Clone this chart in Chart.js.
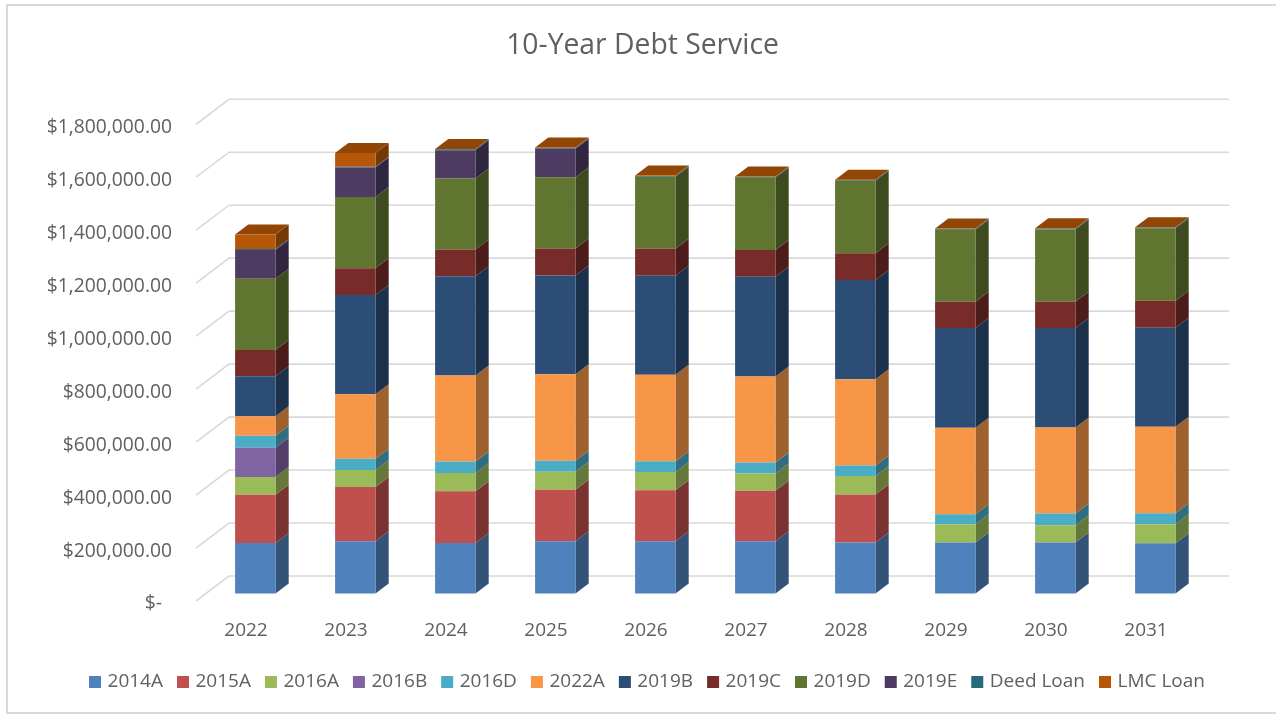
<!DOCTYPE html>
<html>
<head>
<meta charset="utf-8">
<title>10-Year Debt Service</title>
<script src="https://cdn.jsdelivr.net/npm/chart.js@4/dist/chart.umd.min.js"></script>
<style>
  html, body { margin: 0; padding: 0; background: #ffffff; overflow: hidden; }
  canvas { display: block; }
</style>
</head>
<body>
<canvas id="debtServiceChart" width="1276" height="714"></canvas>
<script>
const years = ['2022', '2023', '2024', '2025', '2026', '2027', '2028', '2029', '2030', '2031'];
const tickValues = [0, 200000, 400000, 600000, 800000, 1000000, 1200000, 1400000, 1600000, 1800000];

const bond2014A = [190700, 197000, 191000, 197500, 197500, 197500, 192600, 192600, 192600, 190000];
const bond2015A = [182400, 205000, 195000, 194000, 192600, 190000, 181000, 0, 0, 0];
const bond2016A = [66800, 64000, 69000, 68000, 69000, 65500, 70500, 69000, 65500, 71800];
const bond2016B = [110600, 0, 0, 0, 0, 0, 0, 0, 0, 0];
const bond2016D = [45300, 43000, 43000, 41500, 40400, 41500, 39000, 38000, 44000, 41500];
const bond2022A = [73300, 243000, 325000, 327000, 326000, 325000, 326000, 326000, 325000, 326000];
const bond2019B = [151000, 375000, 375000, 373000, 374000, 376500, 375000, 376500, 375000, 374000];
const bond2019C = [99300, 101000, 101000, 102000, 102000, 101000, 101000, 99500, 99500, 102000];
const bond2019D = [269300, 269000, 268000, 269000, 272000, 273000, 273000, 272000, 273000, 273500];
const bond2019E = [108400, 111000, 107000, 107000, 0, 0, 0, 0, 0, 0];
const deedLoan = [3500, 3500, 3000, 3000, 3000, 3000, 3000, 3000, 3000, 3000];
const lmcLoan = [54800, 52000, 1500, 1500, 1500, 1500, 1500, 1500, 1500, 1500];

const seriesNames = ['2014A', '2015A', '2016A', '2016B', '2016D', '2022A', '2019B', '2019C', '2019D', '2019E', 'Deed Loan', 'LMC Loan'];
const seriesValues = [bond2014A, bond2015A, bond2016A, bond2016B, bond2016D, bond2022A, bond2019B, bond2019C, bond2019D, bond2019E, deedLoan, lmcLoan];
const seriesColors = ['#4f81bd', '#c0504d', '#9bbb59', '#8064a2', '#4bacc6', '#f79646', '#2c4d75', '#772c2a', '#5f7530', '#4d3b62', '#276a7c', '#b65708'];

const fontFamily = '"Open Sans", Arial, sans-serif';
const textColor = '#606060';
const gridColor = '#d9d9d9';

// tick labels hang a little below their gridline stubs
const labelDrop = 3;
// floor runs from the axis plane to the back wall; bars stand part way along it
const wallDepth = { x: 33, y: 25 };
const barOffset = { x: 9.3, y: 7.5 + labelDrop };
const barDepth = { x: 13.2, y: 10 };

function shade(hex, factor) {
  const channels = [1, 3, 5].map((i) => Math.round(parseInt(hex.slice(i, i + 2), 16) * factor));
  return `rgb(${channels.join(',')})`;
}

function fillPolygon(ctx, points, color) {
  ctx.fillStyle = color;
  ctx.beginPath();
  points.forEach(([x, y], i) => (i ? ctx.lineTo(x, y) : ctx.moveTo(x, y)));
  ctx.closePath();
  ctx.fill();
}

const framePlugin = {
  id: 'frame',
  afterLayout(chart) {
    // title sits a little left of the legend's centre
    chart.titleBlock.left -= 6;
    chart.titleBlock.right -= 6;
  },
  beforeDraw(chart) {
    const { ctx, width, height } = chart;
    ctx.save();
    ctx.strokeStyle = gridColor;
    ctx.lineWidth = 2;
    ctx.beginPath();
    ctx.moveTo(width, 5);
    ctx.lineTo(7, 5);
    ctx.lineTo(7, height - 1);
    ctx.lineTo(width, height - 1);
    ctx.stroke();
    ctx.restore();
  }
};

const perspectivePlugin = {
  id: 'perspective',
  beforeDatasetsDraw(chart) {
    const { ctx, chartArea, scales } = chart;

    // gridlines: a stub across the floor, then along the back wall
    ctx.save();
    ctx.strokeStyle = gridColor;
    ctx.lineWidth = 1.6;
    scales.y.ticks.forEach((tick) => {
      const y = scales.y.getPixelForValue(tick.value) - labelDrop;
      ctx.beginPath();
      ctx.moveTo(chartArea.left, y);
      ctx.lineTo(chartArea.left + wallDepth.x, y - wallDepth.y);
      ctx.lineTo(chartArea.right + wallDepth.x, y - wallDepth.y);
      ctx.stroke();
    });
    ctx.restore();

    ctx.save();
    ctx.translate(barOffset.x, -barOffset.y);
    chart.data.datasets.forEach((dataset, index) => {
      chart.getDatasetMeta(index).data.forEach((bar) => {
        if (Math.abs(bar.base - bar.y) < 0.01) return;
        const right = bar.x + bar.width / 2;
        const left = bar.x - bar.width / 2;
        fillPolygon(ctx, [
          [right, bar.y],
          [right + barDepth.x, bar.y - barDepth.y],
          [right + barDepth.x, bar.base - barDepth.y],
          [right, bar.base]
        ], shade(seriesColors[index], 0.64));
        if (index === chart.data.datasets.length - 1) {
          fillPolygon(ctx, [
            [left, bar.y],
            [left + barDepth.x, bar.y - barDepth.y],
            [right + barDepth.x, bar.y - barDepth.y],
            [right, bar.y]
          ], shade(seriesColors[index], 0.8));
        }
      });
    });
    ctx.restore();

    // front faces are drawn by the library, moved onto the bar plane
    ctx.save();
    ctx.translate(barOffset.x, -barOffset.y);
  },
  afterDatasetsDraw(chart) {
    chart.ctx.restore();
  }
};

new Chart(document.getElementById('debtServiceChart'), {
  type: 'bar',
  data: {
    labels: years,
    datasets: seriesNames.map((name, i) => ({
      label: name,
      data: seriesValues[i],
      backgroundColor: seriesColors[i],
      borderWidth: 0,
      barPercentage: 0.404,
      categoryPercentage: 1,
      clip: false
    }))
  },
  options: {
    responsive: false,
    animation: false,
    layout: {
      autoPadding: false,
      padding: { left: 21, right: 0, top: 0, bottom: 12.5 }
    },
    plugins: {
      title: {
        display: true,
        text: '10-Year Debt Service',
        color: textColor,
        font: { family: fontFamily, size: 28.3, weight: 'normal' },
        padding: { top: 29, bottom: 64.3 }
      },
      legend: {
        position: 'bottom',
        labels: {
          color: textColor,
          boxWidth: 6,
          boxHeight: 6,
          padding: 17,
          font: { family: fontFamily, size: 19 },
          generateLabels(chart) {
            return Chart.defaults.plugins.legend.labels.generateLabels(chart).map((item) => ({
              ...item,
              strokeStyle: item.fillStyle,
              lineWidth: 6
            }));
          }
        }
      },
      tooltip: { enabled: false }
    },
    scales: {
      x: {
        stacked: true,
        afterFit(scale) { scale.height = 51.5; },
        grid: { display: false, drawTicks: false },
        border: { display: false },
        ticks: {
          color: textColor,
          padding: 15,
          maxRotation: 0,
          autoSkip: false,
          font: { family: fontFamily, size: 19 }
        }
      },
      y: {
        stacked: true,
        min: 0,
        max: 1800000,
        afterFit(scale) { scale.width = 175; },
        afterBuildTicks(scale) { scale.ticks = tickValues.map((value) => ({ value })); },
        grid: { display: false, drawTicks: false },
        border: { display: false },
        ticks: {
          color: textColor,
          padding: 24,
          font: { family: fontFamily, size: 19.3 },
          callback(value) {
            if (value === 0) return '$-  ';
            return '$' + value.toLocaleString('en-US', { minimumFractionDigits: 2 });
          }
        }
      },
      // empty axis that keeps the room the back wall needs on the right
      wallSpacer: {
        axis: 'y',
        position: 'right',
        afterFit(scale) { scale.width = 80; },
        grid: { display: false, drawTicks: false },
        border: { display: false },
        ticks: { display: false }
      }
    }
  },
  plugins: [framePlugin, perspectivePlugin]
});
</script>
</body>
</html>
